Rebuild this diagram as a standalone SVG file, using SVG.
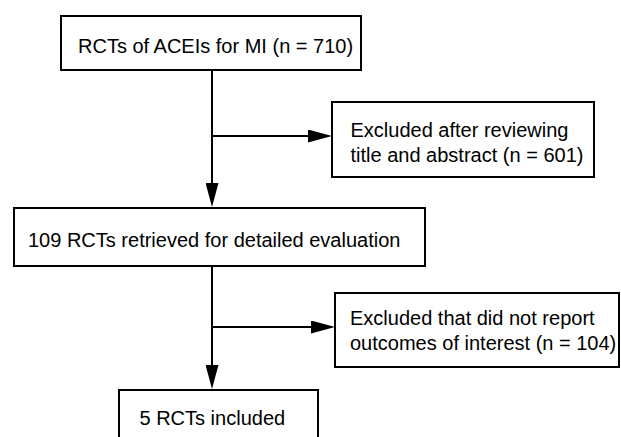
<svg xmlns="http://www.w3.org/2000/svg" width="621" height="437" viewBox="0 0 621 437">
<style>
.box{fill:#fff;stroke:#000;stroke-width:2}
.t{font-family:"Liberation Sans",Arial,sans-serif;font-size:20px;fill:#000}
.c{fill:none;stroke:#000;stroke-width:2}
</style>
<defs>
<marker id="ah" markerUnits="userSpaceOnUse" markerWidth="24" markerHeight="13" refX="4" refY="6.5" orient="auto">
<path d="M0,0 L24,6.5 L0,13 Z" fill="#000"/>
</marker>
</defs>
<rect width="621" height="437" fill="#fff"/>
<g id="connectors">
<path class="c" d="M212,70 V187" marker-end="url(#ah)"/>
<path class="c" d="M212,136 H312" marker-end="url(#ah)"/>
<path class="c" d="M212,266 V369" marker-end="url(#ah)"/>
<path class="c" d="M212,327 H315" marker-end="url(#ah)"/>
</g>
<g id="n1">
<rect class="box" x="61" y="16" width="300" height="54"/>
<text class="t" x="78" y="53">RCTs of ACEIs for MI (n = 710)</text>
</g>
<g id="n2">
<rect class="box" x="332" y="102" width="262" height="75"/>
<text class="t" x="350.5" y="137">Excluded after reviewing</text>
<text class="t" x="350.5" y="161.5">title and abstract (n = 601)</text>
</g>
<g id="n3">
<rect class="box" x="14" y="208" width="411" height="58"/>
<text class="t" x="28" y="247">109 RCTs retrieved for detailed evaluation</text>
</g>
<g id="n4">
<rect class="box" x="335" y="293" width="284" height="74"/>
<text class="t" x="350" y="325">Excluded that did not report</text>
<text class="t" x="350" y="350">outcomes of interest (n = 104)</text>
</g>
<g id="n5">
<rect class="box" x="119" y="390" width="199" height="60"/>
<text class="t" x="139.5" y="425">5 RCTs included</text>
</g>
</svg>
